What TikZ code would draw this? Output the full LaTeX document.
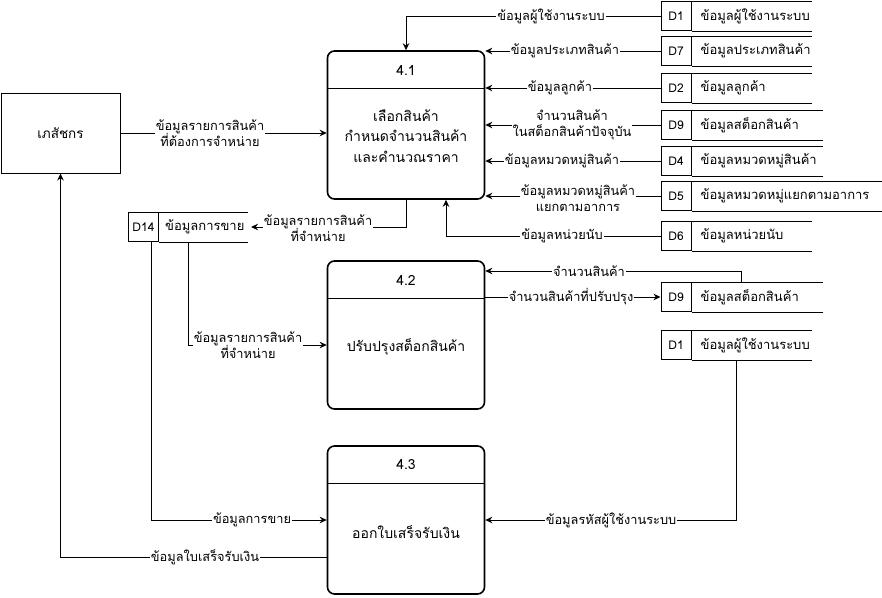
\documentclass[tikz,border=0pt]{standalone}
\usepackage{fontspec}
\setmainfont[Script=Thai]{Loma}
\usetikzlibrary{arrows.meta}
\begin{document}
\begin{tikzpicture}[x=1pt,y=-1pt,
  flow/.style={draw, line width=1pt, -{Stealth[length=7pt,width=6.5pt]}},
  link/.style={draw, line width=1pt},
  lbl/.style={fill=white, inner xsep=1pt, inner ysep=0pt, font=\fontsize{12.8}{16.5}\selectfont, align=center},
  proc/.style={draw, line width=1.6pt, rounded corners=7pt, minimum width=157pt, minimum height=148pt, inner sep=0pt},
  ptitle/.style={font=\fontsize{14}{16}\selectfont},
  ptext/.style={font=\fontsize{14}{20.5}\selectfont, align=center},
  entity/.style={draw, line width=1pt, minimum width=119pt, minimum height=80pt, font=\fontsize{13.5}{15}\selectfont},
  sid/.style={draw, line width=1pt, minimum width=30pt, minimum height=29pt, inner sep=0pt, font=\fontsize{12}{14}\selectfont},
  stext/.style={anchor=west, inner xsep=9pt, inner ysep=0pt, font=\fontsize{13}{15}\selectfont},
]
\useasboundingbox (0,0) rectangle (882,597);

% external entity
\node[entity] (ent) at (60.5,133) {เภสัชกร};

% processes
\node[proc] (p41) at (406,125) {};
\draw[line width=1pt] (p41.west |- 0,88) -- (p41.east |- 0,88);
\node[ptitle] (p41n) at (406,70) {4.1};
\node[ptext] (p41t) at (406,136) {เลือกสินค้า\\กำหนดจำนวนสินค้า\\และคำนวณราคา};

\node[proc] (p42) at (406,335) {};
\draw[line width=1pt] (p42.west |- 0,298) -- (p42.east |- 0,298);
\node[ptitle] (p42n) at (406,280) {4.2};
\node[ptext] (p42t) at (406,347) {ปรับปรุงสต็อกสินค้า};

\node[proc] (p43) at (406,520) {};
\draw[line width=1pt] (p43.west |- 0,483) -- (p43.east |- 0,483);
\node[ptitle] (p43n) at (406,465) {4.3};
\node[ptext] (p43t) at (406,532) {ออกใบเสร็จรับเงิน};

% data stores: id cell, name, open top and bottom lines
\node[sid] (d1) at (676,16) {D1};
\node[stext] (d1t) at (d1.east) {ข้อมูลผู้ใช้งานระบบ};
\draw[link] (d1.north east) -- ++(120,0) (d1.south east) -- ++(120,0);

\node[sid] (d7) at (676,51) {D7};
\node[stext] (d7t) at (d7.east) {ข้อมูลประเภทสินค้า};
\draw[link] (d7.north east) -- ++(120,0) (d7.south east) -- ++(120,0);

\node[sid] (d2) at (676,88) {D2};
\node[stext] (d2t) at (d2.east) {ข้อมูลลูกค้า};
\draw[link] (d2.north east) -- ++(120,0) (d2.south east) -- ++(120,0);

\node[sid] (d9a) at (676,125) {D9};
\node[stext] (d9at) at (d9a.east) {ข้อมูลสต็อกสินค้า};
\draw[link] (d9a.north east) -- ++(131,0) (d9a.south east) -- ++(131,0);

\node[sid] (d4) at (676,161) {D4};
\node[stext] (d4t) at (d4.east) {ข้อมูลหมวดหมู่สินค้า};
\draw[link] (d4.north east) -- ++(131,0) (d4.south east) -- ++(131,0);

\node[sid] (d5) at (676,196) {D5};
\node[stext] (d5t) at (d5.east) {ข้อมูลหมวดหมู่แยกตามอาการ};
\draw[link] (d5.north east) -- ++(190,0) (d5.south east) -- ++(190,0);

\node[sid] (d6) at (676,236) {D6};
\node[stext] (d6t) at (d6.east) {ข้อมูลหน่วยนับ};
\draw[link] (d6.north east) -- ++(120,0) (d6.south east) -- ++(120,0);

\node[sid] (d9b) at (676,297) {D9};
\node[stext] (d9bt) at (d9b.east) {ข้อมูลสต็อกสินค้า};
\draw[link] (d9b.north east) -- ++(131,0) (d9b.south east) -- ++(131,0);

\node[sid] (d1b) at (676,345) {D1};
\node[stext] (d1bt) at (d1b.east) {ข้อมูลผู้ใช้งานระบบ};
\draw[link] (d1b.north east) -- ++(120,0) (d1b.south east) -- ++(120,0);

\node[sid] (d14) at (143.5,227) {D14};
\node[stext, inner xsep=6pt] (d14t) at (d14.east) {ข้อมูลการขาย};
\draw[link] (d14.north east) -- ++(89,0) (d14.south east) -- ++(89,0);
\coordinate (d14r) at ([xshift=92pt]d14.east);

% flows into 4.1
\draw[flow] (ent.east) -- (ent.east -| p41.west);
\draw[flow] (d1.west) -| (p41.north);
\draw[flow] (d7.west) -- (d7.west -| p41.east);
\draw[flow] (d2.west) -- (d2.west -| p41.east);
\draw[flow] (d9a.west) -- (d9a.west -| p41.east);
\draw[flow] (d4.west) -- (d4.west -| p41.east);
\draw[flow] (d5.west) -- (d5.west -| p41.east);
\draw[flow] (d6.west) -| ([xshift=40pt]p41.south);

% flows out of 4.1 and through the sales store
\draw[flow] (p41.south) |- (d14r);
\draw[flow] ([xshift=45pt]d14.south) |- ([yshift=-10pt]p42.west);
\draw[flow] ([xshift=7.5pt]d14.south) |- (p43.west);

% stock adjustment
\draw[flow] ([xshift=65pt]d9b.north) |- ([yshift=64pt]p42.east);
\draw[flow] (d9b.west -| p42.east) -- (d9b.west);

% receipt
\draw[flow] ([xshift=60pt]d1b.south) |- (p43.east);
\draw[flow] ([yshift=-37pt]p43.west) -| (ent.south);

% flow labels
\node[lbl] (l1) at (210,133) {ข้อมูลรายการสินค้า\\ที่ต้องการจำหน่าย};
\node[lbl] (l2) at (551,16) {ข้อมูลผู้ใช้งานระบบ};
\node[lbl] (l3) at (565,51) {ข้อมูลประเภทสินค้า};
\node[lbl] (l4) at (560,88) {ข้อมูลลูกค้า};
\node[lbl] (l5) at (572,125) {จำนวนสินค้า\\ในสต็อกสินค้าปัจจุบัน};
\node[lbl] (l6) at (562,161) {ข้อมูลหมวดหมู่สินค้า};
\node[lbl] (l7) at (578,198) {ข้อมูลหมวดหมู่สินค้า\\แยกตามอาการ};
\node[lbl] (l8) at (562,236) {ข้อมูลหน่วยนับ};
\node[lbl] (l9) at (318,228) {ข้อมูลรายการสินค้า\\ที่จำหน่าย};
\node[lbl] (l10) at (248,345) {ข้อมูลรายการสินค้า\\ที่จำหน่าย};
\node[lbl] (l11) at (589,271) {จำนวนสินค้า};
\node[lbl] (l12) at (571,297) {จำนวนสินค้าที่ปรับปรุง};
\node[lbl] (l13) at (252,520) {ข้อมูลการขาย};
\node[lbl] (l14) at (611,520) {ข้อมูลรหัสผู้ใช้งานระบบ};
\node[lbl] (l15) at (205,557) {ข้อมูลใบเสร็จรับเงิน};
\end{tikzpicture}
\end{document}
